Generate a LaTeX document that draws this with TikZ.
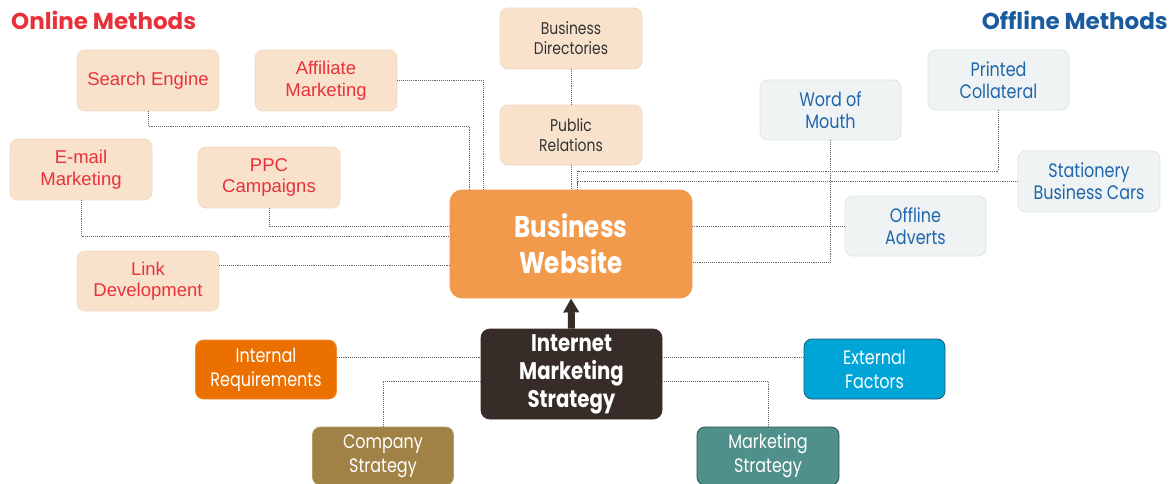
\documentclass[tikz,border=0pt]{standalone}
\usepackage{fontspec}
\setmainfont{Liberation Sans}
\newfontfamily\cg[FakeStretch=0.82]{Poppins}
\newfontfamily\hd{Poppins}
\usetikzlibrary{arrows.meta}
\definecolor{peach}{HTML}{F9E2CC}
\definecolor{peachline}{HTML}{F3DAC2}
\definecolor{onred}{HTML}{E8313A}
\definecolor{offfill}{HTML}{EFF3F4}
\definecolor{offline}{HTML}{DCE4E7}
\definecolor{offblue}{HTML}{1F66AD}
\definecolor{hdblue}{HTML}{1A5A9E}
\definecolor{bworange}{HTML}{F29A4C}
\definecolor{imsdark}{HTML}{372C27}
\definecolor{irorange}{HTML}{EC7000}
\definecolor{efblue}{HTML}{00A5D8}
\definecolor{efline}{HTML}{1C5A70}
\definecolor{csbrown}{HTML}{A08246}
\definecolor{msteal}{HTML}{4F918A}
\definecolor{msline}{HTML}{2E4F4C}
\definecolor{conncol}{HTML}{666666}
\definecolor{bdtext}{HTML}{333333}
\begin{document}
\begin{tikzpicture}[x=1pt,y=-1pt,
  box/.style={rounded corners=8pt, inner sep=0pt, align=center, line width=0.8pt},
  onbox/.style={box, fill=peach, draw=peachline, minimum width=142pt, minimum height=61pt,
    text=onred, font=\fontsize{18.5}{21.5}\selectfont},
  midbox/.style={box, fill=peach, draw=peachline, minimum width=142pt, minimum height=61pt,
    text=bdtext, font=\cg\fontsize{17}{20}\selectfont},
  offbox/.style={box, fill=offfill, draw=offline, minimum width=141pt, minimum height=60pt,
    text=offblue, font=\cg\fontsize{19.5}{22}\selectfont},
  basebox/.style={box, minimum width=141pt, minimum height=59pt,
    text=white, font=\cg\fontsize{19.5}{24}\selectfont},
  conn/.style={draw=conncol, densely dotted, line width=0.9pt},
  heading/.style={inner sep=0pt, anchor=west, font=\hd\bfseries\fontsize{23}{26}\selectfont}
]
\useasboundingbox (0,0) rectangle (1174,484);
\fill[white] (0,0) rectangle (1174,484);

% headings
\node[heading, text=onred] (onh) at (11,20) {Online Methods};
\node[heading, text=hdblue, anchor=east] (offh) at (1168,20) {Offline Methods};

% online methods
\node[onbox] (se) at (148,80.5) {Search Engine};
\node[onbox] (aff) at (326,80.5) {Affiliate\\Marketing};
\node[onbox] (email) at (81,169.5) {E-mail\\Marketing};
\node[onbox] (ppc) at (269,177.5) {PPC\\Campaigns};
\node[onbox, minimum height=60pt] (link) at (148,281) {Link\\Development};

% middle
\node[midbox] (bd) at (571,38.5) {Business\\Directories};
\node[midbox, minimum height=60pt] (pr) at (571,135) {Public\\Relations};

% offline methods
\node[offbox] (wom) at (830.5,110) {Word of\\Mouth};
\node[offbox] (pc) at (998.5,80) {Printed\\Collateral};
\node[offbox, minimum width=142pt, minimum height=61pt] (stat) at (1089,181.5) {Stationery\\Business Cars};
\node[offbox] (oa) at (915.5,226) {Offline\\Adverts};

% centre
\node[box, rounded corners=12pt, fill=bworange, draw=bworange, minimum width=242pt, minimum height=108pt,
  text=white, font=\cg\bfseries\fontsize{30}{36}\selectfont] (bw) at (571,244) {Business\\Website};
\node[box, rounded corners=9pt, fill=imsdark, draw=imsdark, minimum width=181pt, minimum height=90pt,
  text=white, font=\cg\bfseries\fontsize{24}{28}\selectfont] (ims) at (571.5,374) {Internet\\Marketing\\Strategy};

% bottom
\node[basebox, fill=irorange, draw=irorange!80!white] (ir) at (266,369.5) {Internal\\Requirements};
\node[basebox, fill=efblue, draw=efline, minimum height=60pt] (ef) at (874.5,369) {External\\Factors};
\node[basebox, fill=csbrown, draw=csbrown!80!white, minimum height=58pt] (cs) at (383,456) {Company\\Strategy};
\node[basebox, fill=msteal, draw=msline, minimum height=58pt, minimum width=142pt] (ms) at (768,456) {Marketing\\Strategy};

% online connectors
\draw[conn] (se.south) |- (469,126) -- (469,0 |- bw.north);
\draw[conn] (aff.east) -| (483,0 |- bw.north);
\draw[conn] (email.south) |- (bw.west |- 0,236);
\draw[conn] (ppc.south) |- (bw.west |- 0,226);
\draw[conn] (link.east |- 0,265) -- (bw.west |- 0,265);

% middle connectors
\draw[conn] (bd.south) -- (pr.north);
\draw[conn] (pr.south) -- (bw.north);

% offline connectors
\draw[conn] (pc.south) |- (577,171) -- (577,0 |- bw.north);
\draw[conn] (stat.west) -| (577,0 |- bw.north);
\draw[conn] (wom.south) |- (bw.east |- 0,262);
\draw[conn] (oa.west) -- (bw.east |- oa.west);

% strategy connectors
\draw[conn] (ir.east |- 0,357) -- (ims.west |- 0,357);
\draw[conn] (cs.north) |- (ims.west |- 0,381);
\draw[conn] (ims.east |- 0,357) -- (ef.west |- 0,357);
\draw[conn] (ims.east |- 0,381) -| (ms.north);

% arrow
\draw[imsdark, line width=7pt, -{Triangle[width=15pt,length=14pt]}] (ims.north) -- (bw.south);
\end{tikzpicture}
\end{document}
